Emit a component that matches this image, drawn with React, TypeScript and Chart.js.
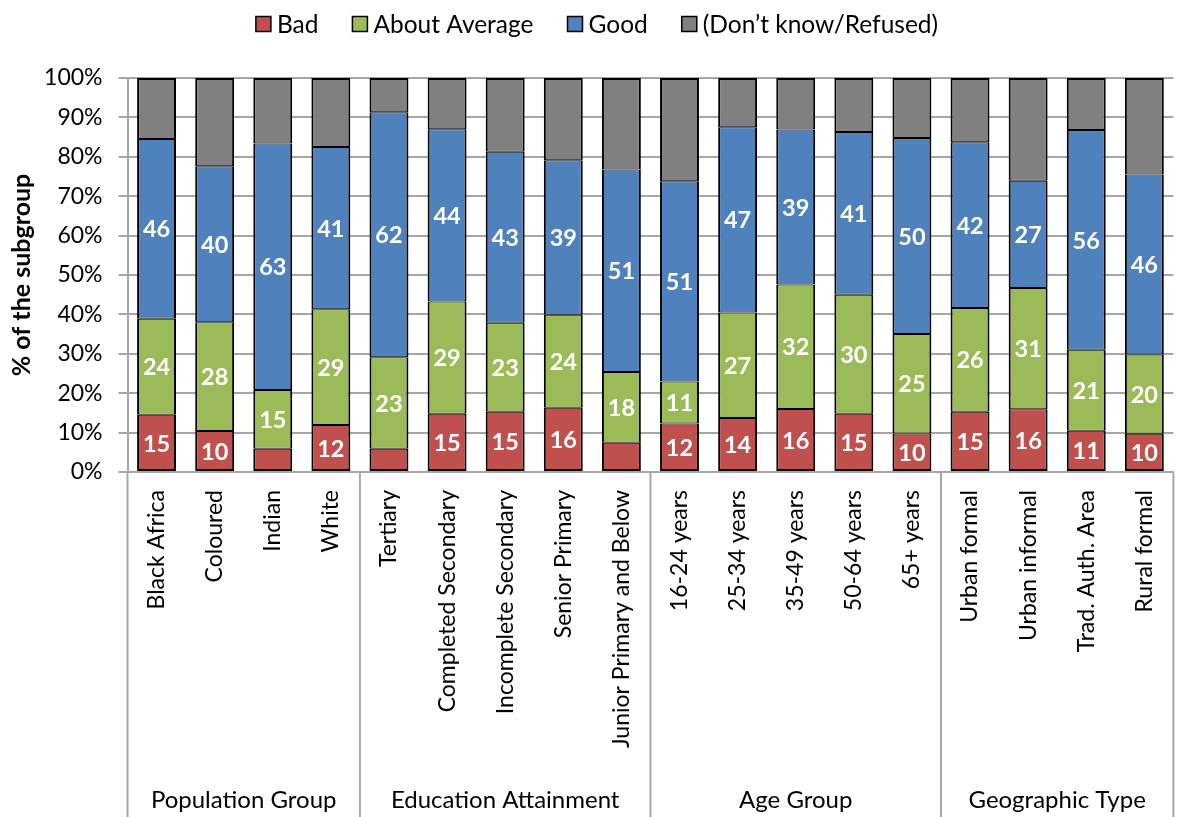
import React, { useEffect, useRef } from 'react';
import { Chart, registerables } from 'chart.js';

Chart.register(...registerables);

const FONT = 'Lato';

const categories = [
  'Black Africa', 'Coloured', 'Indian', 'White',
  'Tertiary', 'Completed Secondary', 'Incomplete Secondary', 'Senior Primary', 'Junior Primary and Below',
  '16-24 years', '25-34 years', '35-49 years', '50-64 years', '65+ years',
  'Urban formal', 'Urban informal', 'Trad. Auth. Area', 'Rural formal',
];

const groupNames = ['Population Group', 'Education Attainment', 'Age Group', 'Geographic Type'];
const groupSizes = [4, 5, 5, 4];

const seriesNames = ['Bad', 'About Average', 'Good', '(Don\u2019t know/Refused)'];
const seriesColors = ['#C0504D', '#9BBB59', '#4F81BD', '#808080'];

const badValues = [14.5, 10.4, 5.9, 11.9, 5.9, 14.8, 15.3, 16.3, 7.4, 12.3, 13.7, 16.0, 14.8, 9.8, 15.3, 15.9, 10.5, 9.7];
const averageValues = [24.4, 27.6, 14.9, 29.4, 23.2, 28.5, 22.6, 23.6, 18.0, 10.7, 26.8, 31.6, 30.2, 25.2, 26.3, 30.8, 20.5, 20.1];
const goodValues = [45.6, 39.6, 62.6, 41.2, 62.2, 43.7, 43.4, 39.2, 51.4, 50.8, 47.0, 39.3, 41.3, 49.8, 42.1, 27.2, 55.8, 45.7];
const dontKnowValues = [15.5, 22.4, 16.6, 17.5, 8.7, 13.0, 18.7, 20.9, 23.2, 26.2, 12.5, 13.1, 13.7, 15.2, 16.3, 26.1, 13.2, 24.5];

const yTicks = [0, 10, 20, 30, 40, 50, 60, 70, 80, 90, 100];

const labelThreshold = 8;

const PAGE_W = 1182;
const PAGE_H = 817;

const legendPlugin = {
  id: 'customLegend',
  afterDraw(chart: any) {
    const ctx = chart.ctx;
    ctx.save();
    ctx.font = `24.5px ${FONT}`;
    const box = 15;
    const gapText = 6;
    const gapItems = 34;
    const names = chart.data.datasets.map((d: any) => d.label);
    const widths = names.map((n: string) => box + gapText + ctx.measureText(n).width);
    const total = widths.reduce((a: number, b: number) => a + b, 0) + gapItems * (names.length - 1);
    let x = 597 - total / 2;
    const cy = 24;
    names.forEach((n: string, i: number) => {
      ctx.fillStyle = chart.data.datasets[i].backgroundColor;
      ctx.fillRect(x, cy - 7.5, box, box);
      ctx.strokeStyle = '#000';
      ctx.lineWidth = 1.5;
      ctx.strokeRect(x, cy - 7.5, box, box);
      ctx.fillStyle = '#000';
      ctx.textAlign = 'left';
      ctx.textBaseline = 'middle';
      ctx.fillText(n, x + box + gapText, cy + 1);
      x += widths[i] + gapItems;
    });
    ctx.restore();
  },
};

const dataLabelPlugin = {
  id: 'segmentLabels',
  afterDatasetsDraw(chart: any) {
    const ctx = chart.ctx;
    ctx.save();
    ctx.font = `bold 23.5px ${FONT}`;
    ctx.fillStyle = '#fff';
    ctx.textAlign = 'center';
    ctx.textBaseline = 'middle';
    for (let di = 0; di < 3; di++) {
      const meta = chart.getDatasetMeta(di);
      const values = chart.data.datasets[di].data;
      meta.data.forEach((el: any, j: number) => {
        const v = values[j];
        if (v < labelThreshold) return;
        const cy = (el.y + el.base) / 2;
        ctx.fillText(String(Math.round(v)), el.x, cy + 1);
      });
    }
    ctx.restore();
  },
};

const groupPlugin = {
  id: 'groupAxis',
  afterDraw(chart: any) {
    const ctx = chart.ctx;
    const xs = chart.scales.x;
    const area = chart.chartArea;
    const n = categories.length;
    ctx.save();
    ctx.strokeStyle = '#a6a6a6';
    ctx.lineWidth = 2;
    let idx = 0;
    const bounds: number[] = [0];
    groupSizes.forEach((s) => { idx += s; bounds.push(idx); });
    const boundaryPx = (b: number) => {
      if (b === 0) return area.left;
      if (b >= n) return area.right;
      return (xs.getPixelForValue(b - 1) + xs.getPixelForValue(b)) / 2;
    };
    bounds.forEach((b) => {
      const px = boundaryPx(b);
      ctx.beginPath();
      ctx.moveTo(px, area.bottom);
      ctx.lineTo(px, chart.height);
      ctx.stroke();
    });
    ctx.font = `24px ${FONT}`;
    ctx.fillStyle = '#000';
    ctx.textAlign = 'center';
    ctx.textBaseline = 'middle';
    for (let g = 0; g < groupNames.length; g++) {
      const left = boundaryPx(bounds[g]);
      const right = boundaryPx(bounds[g + 1]);
      ctx.fillText(groupNames[g], (left + right) / 2, 800);
    }
    ctx.restore();
  },
};

export default function App() {
  const canvasRef = useRef<HTMLCanvasElement | null>(null);

  useEffect(() => {
    if (!canvasRef.current) return;
    Chart.defaults.font.family = FONT;
    const seriesData = [badValues, averageValues, goodValues, dontKnowValues];
    const borderWidths = [
      { top: 1, bottom: 2, left: 2, right: 2 },
      { top: 1, bottom: 1, left: 2, right: 2 },
      { top: 1, bottom: 1, left: 2, right: 2 },
      { top: 2, bottom: 1, left: 2, right: 2 },
    ];
    const chart = new Chart(canvasRef.current, {
      type: 'bar',
      data: {
        labels: categories,
        datasets: seriesData.map((d, i) => ({
          label: seriesNames[i],
          data: d,
          backgroundColor: seriesColors[i],
          borderColor: '#000',
          borderWidth: borderWidths[i],
          borderSkipped: false,
          categoryPercentage: 1,
          barPercentage: 0.67,
        })),
      },
      options: {
        responsive: false,
        animation: false,
        layout: { padding: { top: 78, right: 2, bottom: 0, left: 0 } },
        plugins: {
          legend: { display: false },
          tooltip: { enabled: false },
        },
        scales: {
          x: {
            stacked: true,
            grid: { display: false, drawTicks: false },
            border: { display: true, color: '#a6a6a6', width: 2 },
            ticks: {
              autoSkip: false,
              maxRotation: 90,
              minRotation: 90,
              padding: 18,
              color: '#000',
              font: { size: 23, family: FONT },
            },
            afterFit: (s: any) => { s.height = 345; },
          },
          y: {
            stacked: true,
            min: 0,
            max: 100,
            afterBuildTicks: (s: any) => { s.ticks = yTicks.map((v) => ({ value: v })); },
            ticks: {
              callback: (v: any) => `${v}%`,
              color: '#000',
              padding: 16,
              font: { size: 23, family: FONT },
            },
            grid: { color: '#a6a6a6', lineWidth: 2, tickLength: 9, drawTicks: true },
            border: { display: true, color: '#a6a6a6', width: 2 },
            title: {
              display: true,
              text: '% of the subgroup',
              color: '#000',
              font: { size: 25, weight: 'bold', family: FONT },
              padding: { top: 7, bottom: 0 },
            },
            afterFit: (s: any) => { s.width = 127.5; },
          },
        },
      },
      plugins: [dataLabelPlugin, groupPlugin, legendPlugin],
    } as any);
    return () => chart.destroy();
  }, []);

  return (
    <div style={{ position: 'fixed', left: 0, top: 0, width: PAGE_W, height: PAGE_H, overflow: 'hidden', background: '#fff' }}>
      <canvas ref={canvasRef} width={1190} height={PAGE_H} style={{ display: 'block' }} />
    </div>
  );
}
